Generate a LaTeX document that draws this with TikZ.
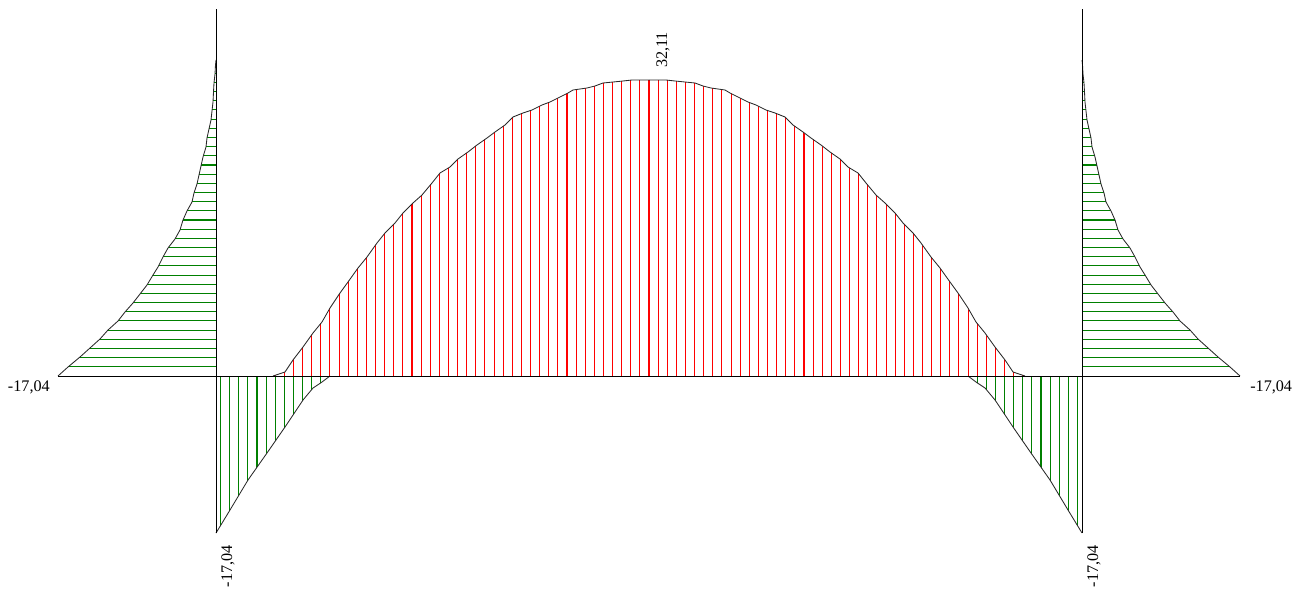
\documentclass[tikz,border=0pt]{standalone}
\usepackage{fontspec}
\setmainfont{Liberation Serif}
\usepackage{tikz}
\usetikzlibrary{calc}
\definecolor{posred}{RGB}{255, 0, 0}
\definecolor{neggreen}{RGB}{0, 128, 0}
\definecolor{contour}{RGB}{40, 40, 40}

% left half of the span envelope (x / value)
\def\archpts{285/4, 293/16, 303/29, 313/43, 322/54, 330/68, 340/83, 348/94, 358/108, 367/119, 377/133, 385/143, 395/153, 403/163, 413/173, 422/181, 432/193, 440/203, 450/209, 458/217, 468/224, 477/231, 487/238, 495/244, 505/251, 513/259, 523/263, 532/266, 542/271, 550/274, 560/279, 568/283, 573/286, 587/288, 595/290, 603/293, 613/294, 623/295, 632/296}
% left column diagram (x / height)
\def\colpts{68/9, 80/19, 90/28, 100/37, 108/46, 118/55, 125/64, 133/73, 147/91, 153/101, 158/109, 163/119, 168/128, 175/137, 180/146, 183/156, 187/165, 192/174, 194/183, 197/192, 199/201, 201/210, 203/219, 206/229, 207/238, 209/247, 211/256, 212/265, 213/274, 213.5/284, 214/293, 215/302, 215.5/311}
% hogging part near the left support
\def\negpts{230/-134, 248/-104, 267/-77, 285/-51, 303/-24, 313/-12, 322/-6}

\begin{document}
\begin{tikzpicture}[x=0.025cm, y=0.025cm,
    contourline/.style={line width=0.6pt, contour},
    memberline/.style={line width=0.7pt, black},
    redhatch/.style={line width=0.75pt, posred},
    greenhatch/.style={line width=0.75pt, neggreen},
    value/.style={inner sep=0pt, font=\fontsize{11.5}{13}\selectfont}]
    \useasboundingbox (0,-218) rectangle (1308,376);

    % Column diagrams, horizontal hatching
    \begin{scope}
        \clip (216,0) -- (58,0) \foreach \x/\y in \colpts {-- (\x,\y)} -- (216,316) -- cycle
              (1082,0) -- (1240,0) \foreach \x/\y in \colpts {-- ({1298-\x},\y)} -- (1082,316) -- cycle;
        \foreach \k in {1,...,34}
            \draw[greenhatch] (40,{9.175*\k}) -- (1260,{9.175*\k});
    \end{scope}

    % Span envelope, sagging part
    \begin{scope}
        \clip (273,0) \foreach \x/\y in \archpts {-- (\x,\y)} -- (649,296) -- (649,0) -- cycle
              (1025,0) \foreach \x/\y in \archpts {-- ({1298-\x},\y)} -- (649,296) -- (649,0) -- cycle;
        \foreach \k in {0,...,94}
            \draw[redhatch] ({216+9.116*(\k+0.5)},-5) -- ({216+9.116*(\k+0.5)},310);
    \end{scope}

    % Span envelope, hogging part at both supports
    \begin{scope}
        \clip (216,0) -- (216,-157) \foreach \x/\y in \negpts {-- (\x,\y)} -- (330,0) -- cycle
              (1082,0) -- (1082,-157) \foreach \x/\y in \negpts {-- ({1298-\x},\y)} -- (968,0) -- cycle;
        \foreach \k in {0,...,94}
            \draw[greenhatch] ({216+9.116*(\k+0.5)},-170) -- ({216+9.116*(\k+0.5)},5);
    \end{scope}

    % Contours
    \draw[contourline] (58,0) \foreach \x/\y in \colpts {-- (\x,\y)} -- (216,316);
    \draw[contourline] (1240,0) \foreach \x/\y in \colpts {-- ({1298-\x},\y)} -- (1082,316);
    \draw[contourline] (273,0) \foreach \x/\y in \archpts {-- (\x,\y)} -- (649,296);
    \draw[contourline] (1025,0) \foreach \x/\y in \archpts {-- ({1298-\x},\y)} -- (649,296);
    \draw[contourline] (216,-157) \foreach \x/\y in \negpts {-- (\x,\y)} -- (330,0);
    \draw[contourline] (1082,-157) \foreach \x/\y in \negpts {-- ({1298-\x},\y)} -- (968,0);

    % Frame axes
    \coordinate (A) at (216,-157);
    \coordinate (B) at (1082,-157);
    \coordinate (AT) at (216,367);
    \coordinate (BT) at (1082,367);
    \draw[memberline] (58,0) -- (1240,0);
    \draw[memberline] (A) -- (AT);
    \draw[memberline] (B) -- (BT);

    % Values
    \node[value, anchor=north east] (mL) at (50,-4) {-17,04};
    \node[value, anchor=north west] (mR) at (1250,-4) {-17,04};
    \node[value, rotate=90, anchor=base east] (mA) at (232,-169) {-17,04};
    \node[value, rotate=90, anchor=base east] (mB) at (1098,-169) {-17,04};
    \node[value, rotate=90, anchor=base west] (mC) at (667,308) {32,11};
\end{tikzpicture}
\end{document}
